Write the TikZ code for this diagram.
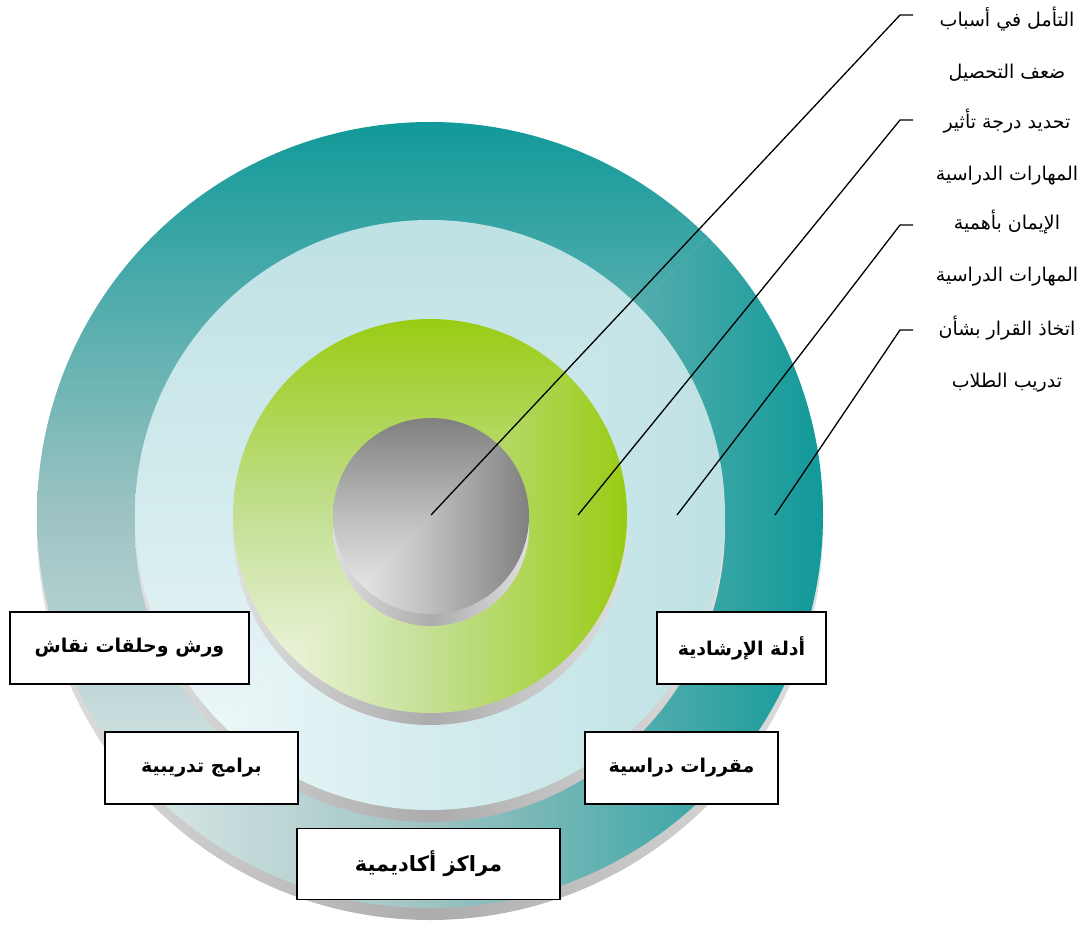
\documentclass[tikz,border=0pt]{standalone}
\usepackage{fontspec}
\newfontfamily\arabicfont[Script=Arabic]{DejaVu Sans}
\TeXXeTstate=1
\definecolor{tealC}{HTML}{119999}
\definecolor{tealM}{HTML}{9EC3C3}
\definecolor{tealL}{HTML}{EEF3F3}
\definecolor{blueC}{HTML}{BFE1E4}
\definecolor{blueM}{HTML}{D4ECEE}
\definecolor{blueL}{HTML}{F5FAFB}
\definecolor{greenC}{HTML}{99CC14}
\definecolor{greenM}{HTML}{C4DF94}
\definecolor{greenL}{HTML}{F8FBF2}
\definecolor{grayC}{HTML}{808080}
\definecolor{grayM}{HTML}{BDBDBD}
\definecolor{grayL}{HTML}{F4F4F4}
\newcommand\mydisc[6]{%
  \shade[left color=gray!25, right color=gray!25, middle color=gray!65] (#1,#2+12) circle[radius=#3];
  \begin{scope}
    \clip (#1,#2) circle[radius=#3];
    \shade[top color=#4, bottom color=#5, middle color=#6] (#1-#3,#2+#3) -- (#1+#3,#2-#3) -- (#1-#3,#2-#3) -- cycle;
    \shade[left color=#5, right color=#4, middle color=#6] (#1-#3,#2+#3) -- (#1+#3,#2-#3) -- (#1+#3,#2+#3) -- cycle;
  \end{scope}}
\tikzset{
  boxnode/.style={draw=black, line width=1.8pt, fill=white, inner sep=0pt, font=\arabicfont\bfseries\fontsize{19}{22}\selectfont},
  labelnode/.style={align=center, inner sep=0pt, font=\arabicfont\fontsize{19}{52}\selectfont},
  leader/.style={draw=black, line width=1.3pt}
}
\begin{document}
\begin{tikzpicture}[x=1pt,y=-1pt]
\useasboundingbox (0,0) rectangle (1083,925);
\mydisc{430}{515}{393}{tealC}{tealL}{tealM}
\mydisc{430}{515}{295}{blueC}{blueL}{blueM}
\mydisc{430}{516}{197}{greenC}{greenL}{greenM}
\mydisc{431}{516}{98}{grayC}{grayL}{grayM}

% leader lines
\coordinate (p1) at (431,515);
\coordinate (p2) at (578,515);
\coordinate (p3) at (677,515);
\coordinate (p4) at (775,515);
\coordinate (k1) at (900,15);
\coordinate (k2) at (900,120);
\coordinate (k3) at (900,225);
\coordinate (k4) at (900,330);
\coordinate (e1) at (913,15);
\coordinate (e2) at (913,120);
\coordinate (e3) at (913,225);
\coordinate (e4) at (913,330);
\draw[leader] (p1) -- (k1) -- (e1);
\draw[leader] (p2) -- (k2) -- (e2);
\draw[leader] (p3) -- (k3) -- (e3);
\draw[leader] (p4) -- (k4) -- (e4);

% labels
\node[labelnode] (l1) at (1007,44) {\beginR التأمل في أسباب\endR\\\beginR ضعف التحصيل\endR};
\node[labelnode] (l2) at (1007,147) {\beginR تحديد درجة تأثير\endR\\\beginR المهارات الدراسية\endR};
\node[labelnode] (l3) at (1007,248) {\beginR الإيمان بأهمية\endR\\\beginR المهارات الدراسية\endR};
\node[labelnode] (l4) at (1007,354) {\beginR اتخاذ القرار بشأن\endR\\\beginR تدريب الطلاب\endR};

% boxes
\node[boxnode, minimum width=239pt, minimum height=72pt] (b1) at (129.5,648) {\beginR ورش وحلقات نقاش\endR};
\node[boxnode, minimum width=193pt, minimum height=72pt] (b2) at (201.5,768) {\beginR برامج تدريبية\endR};
\node[boxnode, minimum width=263pt, minimum height=71pt, font=\arabicfont\bfseries\fontsize{21}{24}\selectfont] (b3) at (428.5,864) {\beginR مراكز أكاديمية\endR};
\node[boxnode, minimum width=169pt, minimum height=72pt] (b4) at (741.5,648) {\beginR أدلة الإرشادية\endR};
\node[boxnode, minimum width=193pt, minimum height=72pt] (b5) at (681.5,768) {\beginR مقررات دراسية\endR};
\end{tikzpicture}
\end{document}
